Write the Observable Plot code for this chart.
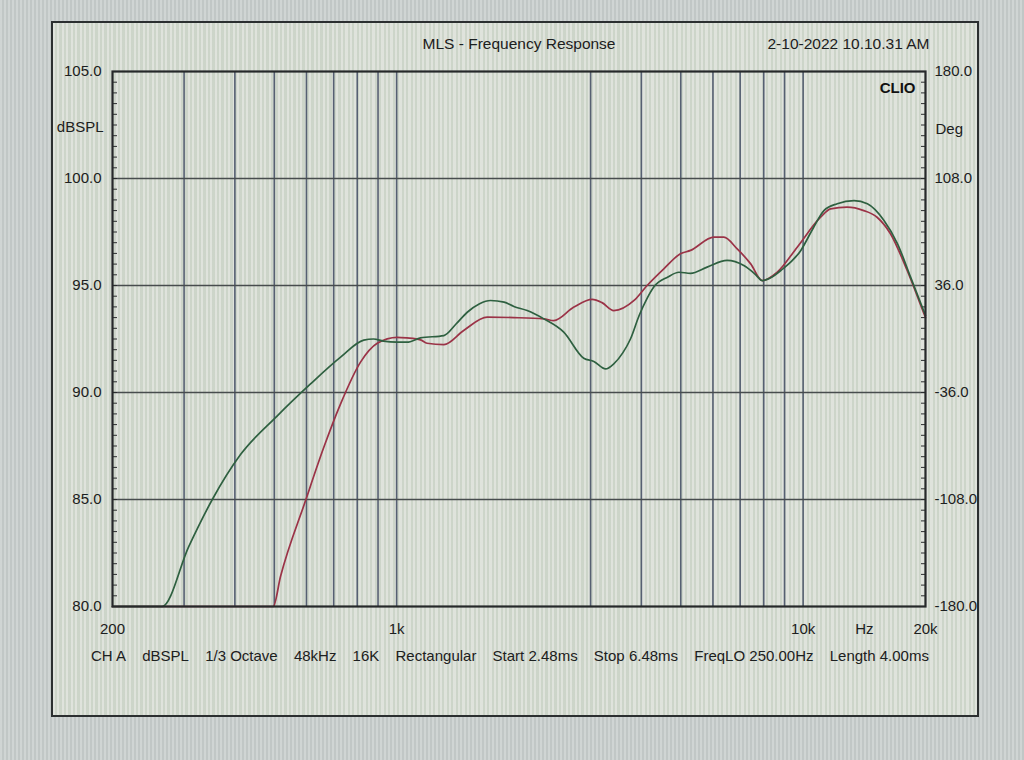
<!DOCTYPE html>
<html><head><meta charset="utf-8">
<script src="https://cdn.jsdelivr.net/npm/d3@7"></script>
<script src="https://cdn.jsdelivr.net/npm/@observablehq/plot@0.6"></script>
<style>
html,body{margin:0;padding:0;background:#c7cdcc;}
#page{position:relative;width:1024px;height:760px;overflow:hidden;
 background:#c8cecd;
 background-image:repeating-linear-gradient(90deg, rgba(255,255,255,0.14) 0 2px, rgba(0,0,0,0.035) 2px 4px);}
#win{position:absolute;left:51px;top:21px;width:924px;height:692px;border:2px solid #2b2f30;
 background:#d6dbd2;
 background-image:repeating-linear-gradient(90deg, rgba(255,255,255,0.22) 0 2px, rgba(110,150,110,0.09) 2px 4.5px);}
#chart{position:absolute;left:0;top:0;}
#footer{position:absolute;left:91px;top:647px;width:838px;display:flex;justify-content:space-between;
 font:15px "Liberation Sans",Arial,sans-serif;color:#1c2020;white-space:pre;}
</style></head><body>
<div id="page"><div id="win"></div><div id="chart"></div><div id="footer"></div></div>
<script>
// ---- data ----
const freqGreen = [200, 265, 308, 352, 413, 508, 614, 728, 830, 877, 928, 1000, 1060, 1145, 1307, 1400, 1492, 1600, 1702, 1838, 1943, 2095, 2303, 2577, 2886, 3056, 3266, 3421, 3600, 3760, 3950, 4132, 4300, 4650, 4950, 5284, 5806, 6500, 7146, 7600, 7934, 8300, 8810, 9870, 10600, 11250, 12130, 13340, 14390, 15810, 17070, 18380, 20000];
const dbGreen   = [80.0, 80.0, 82.8, 85.0, 87.1, 88.9, 90.4, 91.65, 92.45, 92.5, 92.4, 92.35, 92.35, 92.55, 92.66, 93.2, 93.75, 94.15, 94.3, 94.22, 94.02, 93.83, 93.44, 92.82, 91.6, 91.45, 91.1, 91.34, 91.85, 92.5, 93.6, 94.4, 94.95, 95.4, 95.62, 95.57, 95.86, 96.17, 95.93, 95.55, 95.23, 95.35, 95.7, 96.64, 97.7, 98.5, 98.82, 98.97, 98.82, 98.04, 96.95, 95.39, 93.6];
const freqRed   = [200, 497, 518, 597, 662, 728, 815, 896, 1003, 1060, 1145, 1188, 1307, 1462, 1671, 1943, 2303, 2436, 2730, 3027, 3200, 3421, 3838, 4132, 4542, 4990, 5284, 6030, 6380, 6884, 7430, 7934, 8637, 9671, 11040, 11680, 12830, 14100, 15200, 16400, 18030, 19830, 20000];
const dbRed     = [80.0, 80.0, 81.4, 84.95, 87.44, 89.47, 91.42, 92.3, 92.58, 92.55, 92.46, 92.3, 92.24, 92.9, 93.52, 93.5, 93.44, 93.36, 93.99, 94.35, 94.2, 93.83, 94.3, 95.0, 95.78, 96.48, 96.64, 97.26, 97.26, 96.71, 96.01, 95.23, 95.62, 96.79, 98.19, 98.58, 98.66, 98.5, 98.19, 97.42, 95.7, 93.68, 93.5];

const levelTicks  = [80, 85, 90, 95, 100, 105];
const levelLabels = ["80.0", "85.0", "90.0", "95.0", "100.0", "105.0"];
const degLabels   = ["-180.0", "-108.0", "-36.0", "36.0", "108.0", "180.0"];
const gridLevels  = [85, 90, 95, 100];
const gridFreqs   = [300, 400, 500, 600, 700, 800, 900, 1000, 3000, 4000, 5000, 6000, 7000, 8000, 9000, 10000];
const minorLevels = d3.range(80, 105.001, 0.5);
const xTickValues = [200, 1000, 10000, 20000];
const xTickLabels = ["200", "1k", "10k", "20k"];

const titleText = "MLS - Frequency Response";
const dateText  = "2-10-2022 10.10.31 AM";
const brandText = "CLIO";
const leftUnit  = "dBSPL";
const rightUnit = "Deg";
const xUnit     = "Hz";
const footerItems = ["CH A", "dBSPL", "1/3 Octave", "48kHz", "16K", "Rectangular", "Start 2.48ms", "Stop 6.48ms", "FreqLO 250.00Hz", "Length 4.00ms"];

const green = freqGreen.map((f, i) => ({f, db: dbGreen[i]}));
const red   = freqRed.map((f, i) => ({f, db: dbRed[i]}));

const ink = "#1c2020";
const chart = Plot.plot({
  width: 1024, height: 760,
  marginLeft: 112, marginRight: 99, marginTop: 71, marginBottom: 154,
  style: {background: "transparent", fontFamily: "'Liberation Sans', Arial, sans-serif", fontSize: "15px", color: ink},
  x: {type: "log", domain: [200, 20000], axis: null},
  y: {domain: [80, 105], axis: null},
  marks: [
    Plot.ruleX(gridFreqs, {stroke: "#566072", strokeWidth: 1.6}),
    Plot.ruleY(gridLevels, {stroke: "#474c4e", strokeWidth: 1.3}),
    Plot.axisY(minorLevels, {anchor: "left", tickSize: 5, dx: 5, tickFormat: () => "", label: null, stroke: "#2a2d2e"}),
    Plot.axisY(minorLevels, {anchor: "right", tickSize: 5, dx: -5, tickFormat: () => "", label: null, stroke: "#2a2d2e"}),
    Plot.line(red, {x: "f", y: "db", stroke: "#9b3347", strokeWidth: 1.7, curve: "monotone-x"}),
    Plot.line(green, {x: "f", y: "db", stroke: "#2e6040", strokeWidth: 1.7, curve: "monotone-x"}),
    Plot.frame({stroke: "#26292a", strokeWidth: 2.2}),
    Plot.axisY(levelTicks, {anchor: "left", tickSize: 0, tickPadding: 11, tickFormat: d => levelLabels[levelTicks.indexOf(d)], label: null, fill: ink, fontSize: 15}),
    Plot.axisY(levelTicks, {anchor: "right", tickSize: 0, tickPadding: 9, tickFormat: d => degLabels[levelTicks.indexOf(d)], label: null, fill: ink, fontSize: 15}),
    Plot.text(xTickValues, {x: d => d, text: (d, i) => xTickLabels[i], frameAnchor: "bottom", lineAnchor: "middle", dy: 23, fill: ink, fontSize: 15}),
    Plot.text([xUnit], {x: () => Math.sqrt(10000 * 20000), text: d => d, frameAnchor: "bottom", lineAnchor: "middle", dy: 23, fill: ink, fontSize: 15}),
    Plot.text([leftUnit], {text: d => d, frameAnchor: "top-left", lineAnchor: "middle", dx: -9, dy: 56, textAnchor: "end", fill: ink, fontSize: 15}),
    Plot.text([rightUnit], {text: d => d, frameAnchor: "top-right", lineAnchor: "middle", dx: 10, dy: 58, textAnchor: "start", fill: ink, fontSize: 15}),
    Plot.text([titleText], {text: d => d, frameAnchor: "top", lineAnchor: "middle", dy: -27, fill: ink, fontSize: 15.5}),
    Plot.text([dateText], {text: d => d, frameAnchor: "top-right", lineAnchor: "middle", dx: 4, dy: -27, textAnchor: "end", fill: ink, fontSize: 15.5}),
    Plot.text([brandText], {text: d => d, frameAnchor: "top-right", lineAnchor: "middle", dx: -10, dy: 17, textAnchor: "end", fill: "#111", fontSize: 15, fontWeight: "bold"})
  ]
});
document.getElementById("chart").appendChild(chart);
const footer = document.getElementById("footer");
footerItems.forEach(t => { const s = document.createElement("span"); s.textContent = t; footer.appendChild(s); });
</script>
</body></html>
